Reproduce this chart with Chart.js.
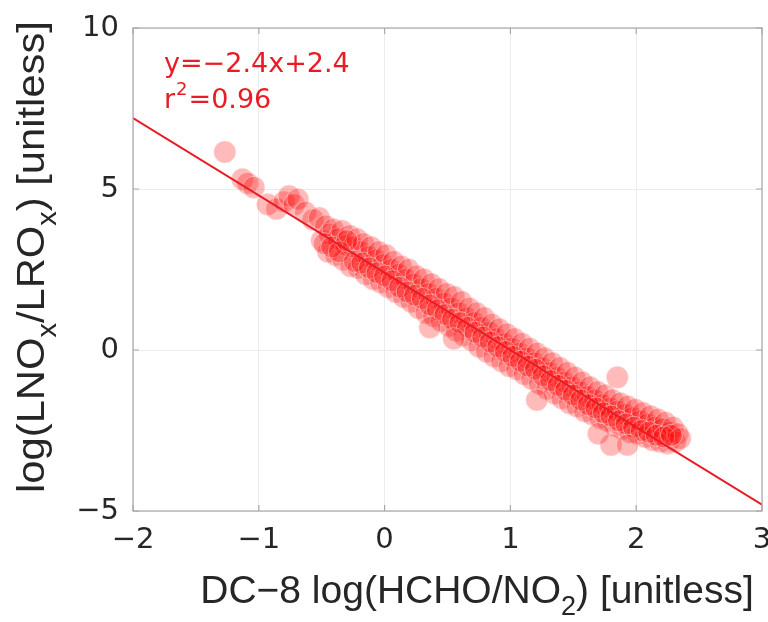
<!DOCTYPE html>
<html>
<head>
<meta charset="utf-8">
<script src="https://cdn.jsdelivr.net/npm/chart.js@4"></script>
<style>
  html, body { margin: 0; padding: 0; background: #fff; }
  #wrap { width: 768px; height: 622px; }
</style>
</head>
<body>
<div id="wrap"><canvas id="chart" width="768" height="622"></canvas></div>
<script>
// DC-8 samples: x = log(HCHO/NO2), y = log(LNOx/LROx)
const obsX = [
  -1.27, -1.13, -1.09, -1.04, -0.93, -0.86, -0.80, -0.76, -0.72, -0.69, -0.63, -0.57,
  -0.52, -0.50, -0.47, -0.45, -0.44, -0.41, -0.39, -0.37, -0.34, -0.33, -0.31,
  -0.28, -0.27, -0.25, -0.22, -0.21, -0.19, -0.17, -0.15, -0.13, -0.11, -0.09, -0.07,
  -0.05, -0.03, -0.01, 0.01, 0.03, 0.05, 0.07, 0.09, 0.11, 0.13, 0.15, 0.17,
  0.19, 0.21, 0.23, 0.25, 0.27, 0.29, 0.31, 0.33, 0.35, 0.37, 0.39, 0.41,
  0.43, 0.45, 0.47, 0.49, 0.51, 0.53, 0.55, 0.57, 0.59, 0.61, 0.63, 0.65,
  0.67, 0.69, 0.71, 0.73, 0.75, 0.77, 0.79, 0.81, 0.83, 0.85, 0.87, 0.89,
  0.91, 0.93, 0.95, 0.97, 0.99, 1.01, 1.03, 1.05, 1.07, 1.09, 1.11, 1.13,
  1.15, 1.17, 1.19, 1.21, 1.23, 1.25, 1.27, 1.29, 1.31, 1.33, 1.35, 1.37,
  1.39, 1.41, 1.43, 1.45, 1.47, 1.49, 1.51, 1.53, 1.55, 1.57, 1.59, 1.61,
  1.63, 1.65, 1.67, 1.69, 1.71, 1.73, 1.75, 1.77, 1.79, 1.81, 1.83, 1.85,
  1.87, 1.89, 1.91, 1.93, 1.95, 1.97, 1.99, 2.01, 2.03, 2.05, 2.07, 2.09,
  2.11, 2.13, 2.15, 2.17, 2.19, 2.21, 2.23, 2.25, 2.27, 2.29, 2.31, 2.33, 2.35,
  -0.48, -0.42, -0.36, -0.30, -0.24, -0.18, -0.12, -0.06, 0.00, 0.06, 0.12, 0.18,
  0.24, 0.30, 0.36, 0.42, 0.48, 0.54, 0.60, 0.66, 0.72, 0.78, 0.84, 0.90,
  0.96, 1.02, 1.08, 1.14, 1.20, 1.26, 1.32, 1.38, 1.44, 1.50, 1.56, 1.62,
  1.68, 1.74, 1.80, 1.86, 1.92, 1.98, 2.04, 2.10, 2.16, 2.22, 2.28,
  1.85, 1.80, 1.93, 1.70, 0.36, 1.21, 0.55
];
const obsY = [
  6.15, 5.30, 5.18, 5.05, 4.52, 4.38, 4.60, 4.78, 4.52, 4.68, 4.28, 4.05,
  4.10, 3.40, 3.85, 3.05, 3.60, 3.75, 2.95, 3.45, 3.70, 2.80, 3.25,
  3.55, 2.60, 3.20, 3.45, 2.55, 3.05, 3.30, 2.35, 2.90, 3.20, 2.20, 2.80,
  3.05, 2.10, 2.65, 2.95, 1.95, 2.50, 2.75, 1.80, 2.35, 2.60, 1.65, 2.20,
  2.50, 1.50, 2.05, 2.30, 1.30, 1.90, 2.20, 1.15, 1.75, 2.05, 1.05, 1.60,
  1.90, 0.90, 1.45, 1.75, 0.75, 1.30, 1.65, 0.60, 1.15, 1.50, 0.45, 1.00,
  1.30, 0.30, 0.85, 1.15, 0.10, 0.70, 1.00, -0.05, 0.55, 0.80, -0.20, 0.35,
  0.65, -0.35, 0.20, 0.50, -0.50, 0.05, 0.35, -0.60, -0.10, 0.20, -0.75, -0.25,
  0.05, -0.90, -0.40, -0.10, -1.05, -0.55, -0.25, -1.20, -0.70, -0.40, -1.35, -0.85,
  -0.55, -1.50, -1.00, -0.70, -1.65, -1.15, -0.85, -1.75, -1.30, -1.00, -1.90, -1.45,
  -1.15, -2.00, -1.55, -1.30, -2.10, -1.70, -1.40, -2.20, -1.80, -1.55, -2.35, -1.90,
  -1.65, -2.45, -2.00, -1.75, -2.55, -2.10, -1.85, -2.60, -2.20, -1.95, -2.70, -2.30,
  -2.05, -2.80, -2.40, -2.15, -2.85, -2.45, -2.25, -2.90, -2.55, -2.40, -2.85, -2.60, -2.75,
  3.30, 3.20, 3.05, 3.40, 2.75, 2.70, 2.55, 2.40, 2.30, 2.15, 1.95, 1.80,
  1.70, 1.60, 1.40, 1.25, 1.10, 0.95, 0.85, 0.70, 0.55, 0.40, 0.25, 0.10,
  -0.05, -0.20, -0.35, -0.50, -0.60, -0.80, -0.95, -1.10, -1.25, -1.40, -1.55, -1.70,
  -1.80, -1.95, -2.05, -2.20, -2.30, -2.40, -2.50, -2.55, -2.65, -2.70, -2.65,
  -0.85, -2.95, -2.95, -2.60, 0.70, -1.55, 0.35
];

// least-squares fit drawn over the data
const fitX = [-2, 3];
const fitY = [7.2, -4.8];

const xTicks = [-2, -1, 0, 1, 2, 3];
const yTicks = [-5, 0, 5, 10];

// titles as [text, isSubscript] pieces
const xTitle = [["DC\u22128 log(HCHO/NO", false], ["2", true], [") [unitless]", false]];
const yTitle = [["log(LNO", false], ["x", true], ["/LRO", false], ["x", true], [") [unitless]", false]];

const TICKFONT = "'DejaVu Sans', sans-serif";
const TITLEFONT = "'Liberation Sans', Arial, sans-serif";
const RED = "rgb(232, 28, 36)";

const minus = v => String(v).replace("-", "\u2212");

function richText(c, pieces, cx, cy, size) {
  const sub = Math.round(size * 0.7);
  let w = 0;
  pieces.forEach(p => {
    c.font = (p[1] ? sub : size) + "px " + TITLEFONT;
    w += c.measureText(p[0]).width;
  });
  let x = cx - w / 2;
  c.textAlign = "left";
  pieces.forEach(p => {
    c.font = (p[1] ? sub : size) + "px " + TITLEFONT;
    c.fillText(p[0], x, p[1] ? cy + size * 0.3 : cy);
    x += c.measureText(p[0]).width;
  });
}

const frame = {
  id: "frame",
  afterDraw(chart) {
    const c = chart.ctx, a = chart.chartArea;
    c.save();
    c.strokeStyle = "#a8a8a8";
    c.lineWidth = 1.2;
    c.strokeRect(a.left, a.top, a.right - a.left, a.bottom - a.top);
    // inward tick marks
    c.beginPath();
    xTicks.forEach(t => {
      const px = chart.scales.x.getPixelForValue(t);
      c.moveTo(px, a.bottom); c.lineTo(px, a.bottom - 6);
      c.moveTo(px, a.top); c.lineTo(px, a.top + 6);
    });
    yTicks.forEach(t => {
      const py = chart.scales.y.getPixelForValue(t);
      c.moveTo(a.left, py); c.lineTo(a.left + 6, py);
      c.moveTo(a.right, py); c.lineTo(a.right - 6, py);
    });
    c.stroke();

    // fit annotation
    c.fillStyle = RED;
    c.textBaseline = "alphabetic";
    c.textAlign = "left";
    c.font = "27px " + TICKFONT;
    c.fillText("y=\u22122.4x+2.4", 164, 72);
    c.fillText("r", 164, 108);
    let rx = 164 + c.measureText("r").width;
    c.font = "18px " + TICKFONT;
    c.fillText("2", rx + 1, 95);
    rx += c.measureText("2").width + 2;
    c.font = "27px " + TICKFONT;
    c.fillText("=0.96", rx, 108);

    // axis titles
    c.fillStyle = "#262626";
    richText(c, xTitle, 477, 603, 39);
    c.translate(44, 257);
    c.rotate(-Math.PI / 2);
    c.scale(1.07, 1);
    richText(c, yTitle, 0, 0, 39);
    c.restore();
  }
};

const ctx = document.getElementById("chart").getContext("2d");
const chart = new Chart(ctx, {
  type: "scatter",
  data: {
    datasets: [
      {
        type: "line",
        label: "fit",
        data: fitX.map((x, i) => ({ x: x, y: fitY[i] })),
        borderColor: RED,
        borderWidth: 2,
        pointRadius: 0,
        fill: false,
        order: 0
      },
      {
        label: "DC-8",
        data: obsX.map((x, i) => ({ x: x, y: obsY[i] })),
        backgroundColor: "rgba(255, 0, 0, 0.27)",
        borderColor: "rgba(255, 225, 225, 0.5)",
        borderWidth: 1,
        pointRadius: 11,
        order: 1
      }
    ]
  },
  options: {
    responsive: false,
    animation: false,
    layout: { autoPadding: false, padding: { top: 28, right: 6, left: 0, bottom: 0 } },
    plugins: { legend: { display: false }, tooltip: { enabled: false } },
    scales: {
      x: {
        type: "linear",
        min: -2, max: 3,
        afterBuildTicks: s => { s.ticks = xTicks.map(v => ({ value: v })); },
        afterFit: s => { s.height = 111; s.paddingLeft = 0; s.paddingRight = 0; },
        grid: { color: "#ececec", drawTicks: false },
        border: { display: false },
        ticks: {
          padding: 12,
          color: "#262626",
          font: { family: TICKFONT, size: 29 },
          callback: v => minus(v)
        }
      },
      y: {
        type: "linear",
        min: -5, max: 10,
        afterBuildTicks: s => { s.ticks = yTicks.map(v => ({ value: v })); },
        afterFit: s => { s.width = 133; s.paddingTop = 0; s.paddingBottom = 0; },
        grid: { color: "#ececec", drawTicks: false },
        border: { display: false },
        ticks: {
          padding: 14,
          color: "#262626",
          font: { family: TICKFONT, size: 29 },
          callback: v => minus(v)
        }
      }
    }
  },
  plugins: [frame]
});
</script>
</body>
</html>
